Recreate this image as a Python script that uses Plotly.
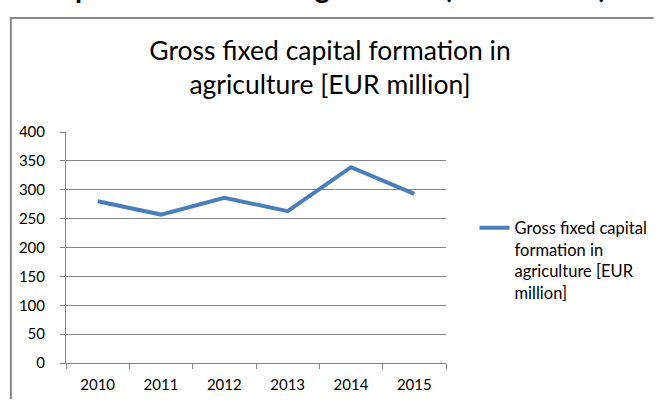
import plotly.graph_objects as go

years = ["2010", "2011", "2012", "2013", "2014", "2015"]
gfcf = [280, 257, 286, 263, 339, 293]
y_ticks = [0, 50, 100, 150, 200, 250, 300, 350, 400]

series_name = "Gross fixed capital<br>formation in<br>agriculture [EUR<br>million]"
chart_title = "Gross fixed capital formation in<br>agriculture [EUR million]"
page_heading = "Gross fixed capital formation in agriculture (EUR million)"

FONT = "Lato, 'Open Sans', sans-serif"
GRID = "#868686"

# plot area in pixels
L, R, T, B = 66, 452, 132, 367
W, H = 665, 405
pw, ph = R - L, B - T


def px_x(x):
    return (x - L) / pw


def px_y(y):
    return (B - y) / ph


fig = go.Figure()
fig.add_trace(go.Scatter(
    x=years, y=gfcf, mode="lines", name=series_name,
    line=dict(color="#4A7EBB", width=4),
    showlegend=True,
))

fig.update_layout(
    width=W, height=H,
    margin=dict(l=L, r=W - R, t=T, b=H - B, pad=0),
    paper_bgcolor="white", plot_bgcolor="white",
    font=dict(family=FONT, size=14, color="#000000"),
    title=dict(
        text=chart_title, x=330 / W, xanchor="center",
        y=1 - 60 / H, yanchor="top",
        font=dict(family=FONT, size=26.5, color="#000000"),
    ),
    showlegend=True,
    legend=dict(
        x=px_x(481), y=px_y(212), xanchor="left", yanchor="top",
        valign="top", bgcolor="rgba(0,0,0,0)",
        font=dict(family=FONT, size=16.5, color="#000000"),
        tracegroupgap=0,
    ),
)

fig.update_xaxes(
    type="category", range=[-0.5, 5.5],
    showline=True, linecolor=GRID, linewidth=1,
    ticks="outside", ticklen=5, tickcolor=GRID, tickson="boundaries",
    showgrid=False, zeroline=False,
    tickfont=dict(family=FONT, size=15, color="#000000"),
    ticklabelstandoff=8,
)
fig.update_yaxes(
    range=[0, 400], tickvals=y_ticks,
    showline=True, linecolor=GRID, linewidth=1,
    ticks="outside", ticklen=5, tickcolor=GRID,
    showgrid=True, gridcolor=GRID, gridwidth=1, zeroline=False,
    tickfont=dict(family=FONT, size=15, color="#000000"),
    ticklabelstandoff=12,
)

# chart frame: top and left edges (the rest runs off the page)
FRAME = dict(color="#888888", width=2)
fig.add_shape(type="line", xref="paper", yref="paper",
              x0=px_x(9), x1=px_x(W - 2), y0=px_y(16), y1=px_y(16),
              line=FRAME, layer="above")
fig.add_shape(type="line", xref="paper", yref="paper",
              x0=px_x(10), x1=px_x(10), y0=px_y(16), y1=px_y(H - 1),
              line=FRAME, layer="above")

# page heading above the chart
fig.add_annotation(
    text="<b>" + page_heading + "</b>", xref="paper", yref="paper",
    x=px_x(618), y=px_y(3.5), xanchor="right", yanchor="bottom",
    showarrow=False, font=dict(family=FONT, size=28.5, color="#000000"),
)

fig.write_html("out.html")
